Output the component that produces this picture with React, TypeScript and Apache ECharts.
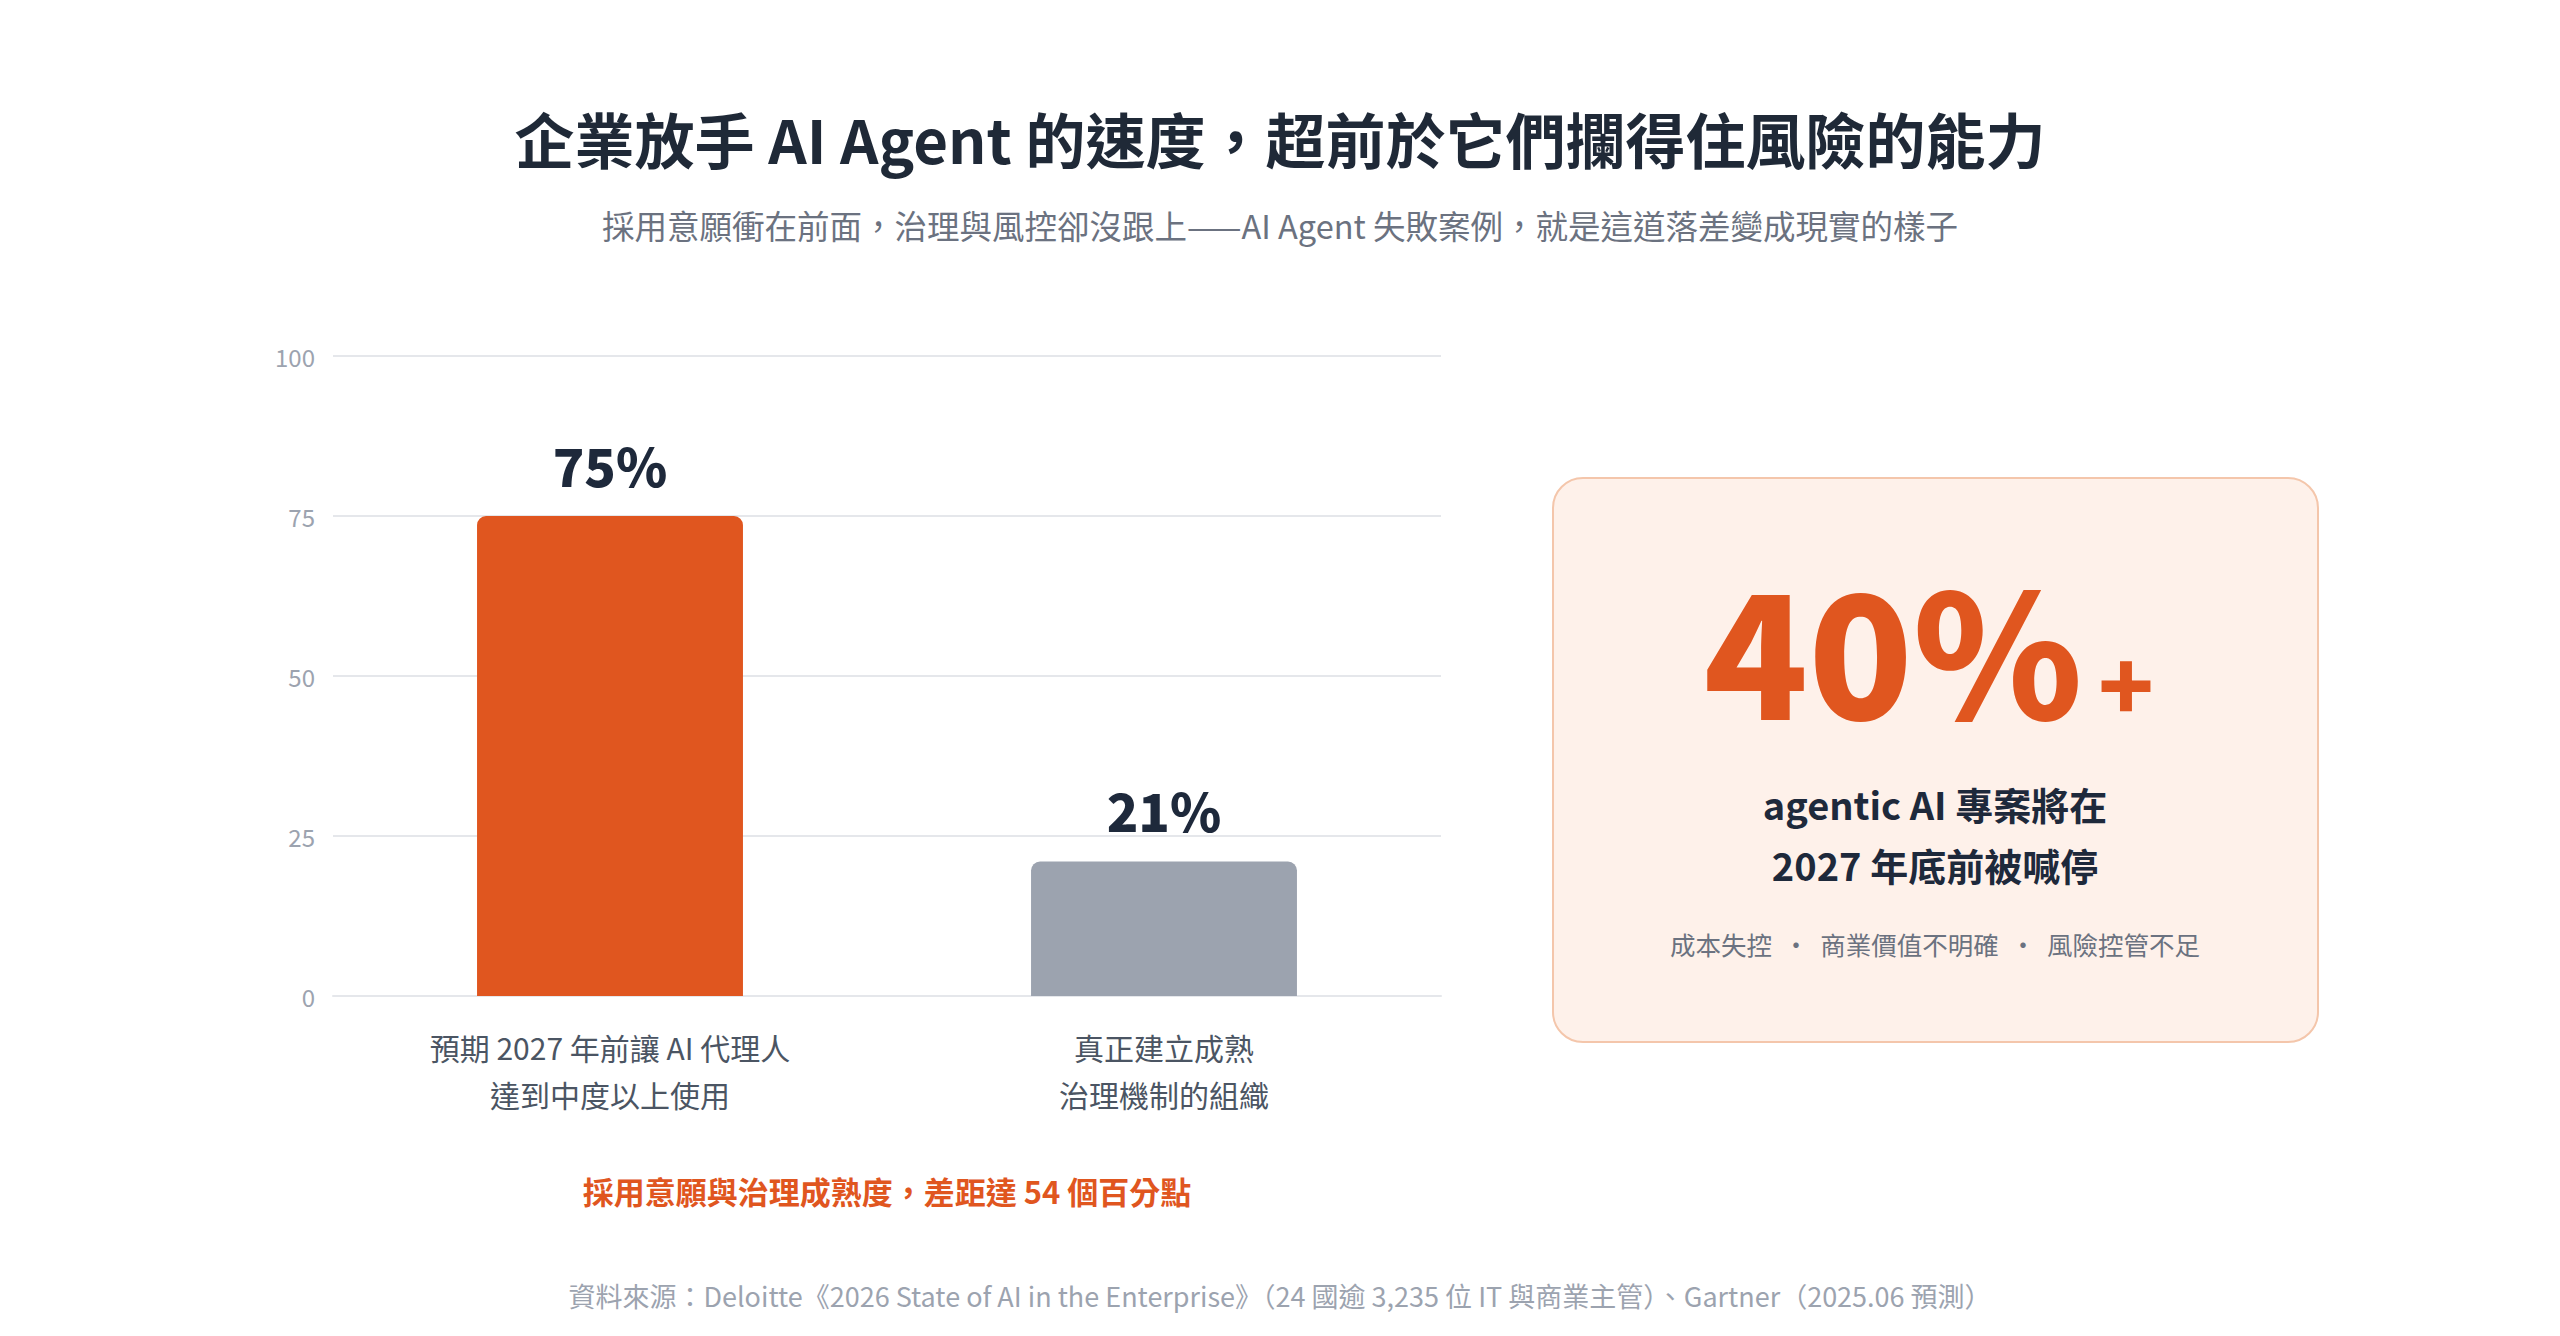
import React, { useEffect, useRef } from "react";
import * as echarts from "echarts";

const categories = ["預期 2027 年前讓 AI 代理人\n達到中度以上使用", "真正建立成熟\n治理機制的組織"];
const values = [75, 21];
const barColors = ["#E0561F", "#9CA3AF"];
const yTicks = { min: 0, max: 100, interval: 25 };

const titleText = "企業放手 AI Agent 的速度，超前於它們攔得住風險的能力";
const subtitleText = "採用意願衝在前面，治理與風控卻沒跟上——AI Agent 失敗案例，就是這道落差變成現實的樣子";
const gapNote = "採用意願與治理成熟度，差距達 54 個百分點";
const sourceNote = "資料來源：Deloitte《2026 State of AI in the Enterprise》（24 國逾 3,235 位 IT 與商業主管）、Gartner（2025.06 預測）";
const cardBig = "40%";
const cardPlus = "+";
const cardLine1 = "agentic AI 專案將在";
const cardLine2 = "2027 年底前被喊停";
const cardReasons = "成本失控  ·  商業價值不明確  ·  風險控管不足";

const FONT = '"Noto Sans CJK TC", "Noto Sans", sans-serif';

export default function App() {
  const ref = useRef<HTMLDivElement>(null);
  useEffect(() => {
    document.body.style.margin = "0";
    const chart = echarts.init(ref.current!, null, { renderer: "svg" });
    chart.setOption({
      animation: false,
      backgroundColor: "#ffffff",
      textStyle: { fontFamily: FONT },
      grid: { left: 333, right: 1119, top: 356, bottom: 340, containLabel: false },
      xAxis: {
        type: "category",
        data: categories,
        axisTick: { show: false },
        axisLine: { show: true, lineStyle: { color: "#E5E7EB", width: 2 } },
        axisLabel: {
          color: "#4B5563",
          fontSize: 30,
          lineHeight: 47,
          margin: 27,
          fontFamily: FONT,
        },
      },
      yAxis: {
        type: "value",
        min: yTicks.min,
        max: yTicks.max,
        interval: yTicks.interval,
        axisLine: { show: false },
        axisTick: { show: false },
        splitLine: { lineStyle: { color: "#E5E7EB", width: 2 } },
        axisLabel: { color: "#9CA3AF", fontSize: 24, margin: 18, fontFamily: FONT },
      },
      series: [
        {
          type: "bar",
          barWidth: "48%",
          data: values.map((v, i) => ({ value: v, itemStyle: { color: barColors[i] } })),
          itemStyle: { borderRadius: [9, 9, 0, 0] },
          label: {
            show: true,
            position: "top",
            distance: 26,
            formatter: "{c}%",
            fontSize: 52,
            fontWeight: 900,
            color: "#1E293B",
            fontFamily: FONT,
          },
        },
      ],
      graphic: [
        {
          type: "text",
          x: 1280,
          y: 137,
          style: {
            text: titleText,
            fill: "#1F2937",
            font: `700 60px ${FONT}`,
            textAlign: "center",
            textVerticalAlign: "middle",
          },
        },
        {
          type: "text",
          x: 1280,
          y: 224,
          style: {
            text: subtitleText,
            fill: "#6B7280",
            font: `400 32.5px ${FONT}`,
            textAlign: "center",
            textVerticalAlign: "middle",
          },
        },
        {
          type: "text",
          x: 887,
          y: 1190,
          style: {
            text: gapNote,
            fill: "#E0561F",
            font: `700 31px ${FONT}`,
            textAlign: "center",
            textVerticalAlign: "middle",
          },
        },
        {
          type: "text",
          x: 1280,
          y: 1295,
          style: {
            text: sourceNote,
            fill: "#9CA3AF",
            font: `400 27px ${FONT}`,
            textAlign: "center",
            textVerticalAlign: "middle",
          },
        },
        {
          type: "rect",
          shape: { x: 1553, y: 478, width: 765, height: 564, r: 30 },
          style: { fill: "#FEF1EA", stroke: "#F4C6AB", lineWidth: 2 },
        },
        {
          type: "text",
          x: 1893,
          y: 645,
          style: {
            text: cardBig,
            fill: "#E0561F",
            font: `900 172px ${FONT}`,
            textAlign: "center",
            textVerticalAlign: "middle",
          },
        },
        {
          type: "text",
          x: 2126,
          y: 680,
          style: {
            text: cardPlus,
            fill: "#E0561F",
            font: `900 92px ${FONT}`,
            textAlign: "center",
            textVerticalAlign: "middle",
          },
        },
        {
          type: "text",
          x: 1935,
          y: 803,
          style: {
            text: cardLine1,
            fill: "#1E293B",
            font: `600 38px ${FONT}`,
            textAlign: "center",
            textVerticalAlign: "middle",
          },
        },
        {
          type: "text",
          x: 1935,
          y: 864,
          style: {
            text: cardLine2,
            fill: "#1E293B",
            font: `600 38px ${FONT}`,
            textAlign: "center",
            textVerticalAlign: "middle",
          },
        },
        {
          type: "text",
          x: 1935,
          y: 943,
          style: {
            text: cardReasons,
            fill: "#6B7280",
            font: `400 25.5px ${FONT}`,
            textAlign: "center",
            textVerticalAlign: "middle",
          },
        },
      ],
    });
    return () => chart.dispose();
  }, []);
  return (
    <div
      ref={ref}
      style={{ position: "absolute", left: 0, top: 0, width: 2560, height: 1336 }}
    />
  );
}
